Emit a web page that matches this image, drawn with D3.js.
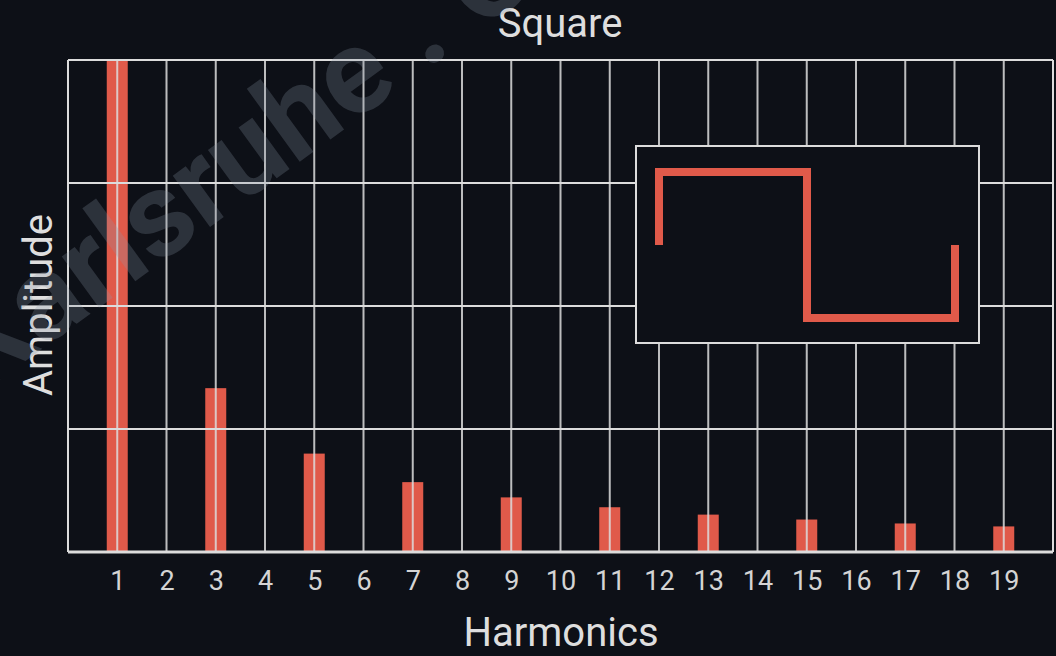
<!DOCTYPE html>
<html>
<head>
	<title>Square</title>
	<script src="https://d3js.org/d3.v7.min.js" charset="utf-8"></script>
	<style>
		body { margin: 0; background: #0d1017; }
		text { font-family: Roboto, sans-serif; }
	</style>
</head>
<body>
	<svg width="1056" height="656"></svg>
	<script>
		// harmonic amplitudes (even harmonics are zero)
		const harmonics = [1, 3, 5, 7, 9, 11, 13, 15, 17, 19];
		const amplitudes = [1.0, 0.333, 0.2, 0.142, 0.111, 0.091, 0.076, 0.066, 0.058, 0.052];
		const tickLabels = d3.range(1, 20);
		// one period of the square wave shown in the inset: [t, level]
		const waveT = [0, 0, 0.5, 0.5, 1, 1];
		const waveV = [0, 1, 1, -1, -1, 0];

		const plotLeft = 68, plotRight = 1053, plotTop = 60, plotBottom = 552;

		const svg = d3.select('svg');
		svg.append('rect').attr('width', 1056).attr('height', 656).attr('fill', '#0d1017');

		const x = d3.scaleLinear().domain([0, 20]).range([plotLeft, plotRight]);
		const y = d3.scaleLinear().domain([0, 1]).range([plotBottom, plotTop]);

		// bars
		const barW = 21;
		svg.selectAll('rect.bar')
			.data(harmonics)
			.enter()
			.append('rect')
			.attr('class', 'bar')
			.attr('x', d => x(d) - barW / 2)
			.attr('y', (d, i) => y(amplitudes[i]))
			.attr('width', barW)
			.attr('height', (d, i) => y(0) - y(amplitudes[i]))
			.attr('fill', '#e05a4a');

		// grid on top of bars
		const grid = svg.append('g').attr('stroke', '#dcdcdc').attr('stroke-width', 2);
		grid.selectAll('line.v')
			.data(d3.range(0, 21))
			.enter()
			.append('line')
			.attr('x1', d => x(d)).attr('x2', d => x(d))
			.attr('y1', plotTop).attr('y2', plotBottom)
			.attr('stroke-opacity', d => (d === 0 || d === 20) ? 1 : 0.85);
		grid.selectAll('line.h')
			.data(d3.range(0, 1.01, 0.25))
			.enter()
			.append('line')
			.attr('x1', plotLeft).attr('x2', plotRight)
			.attr('y1', d => y(d)).attr('y2', d => y(d))
			.attr('stroke-width', d => (d === 0) ? 3 : 2);

		// x axis
		const xAxis = svg.append('g')
			.attr('transform', `translate(0, ${plotBottom})`)
			.call(d3.axisBottom(x).tickValues(tickLabels).tickSize(0).tickPadding(19).tickFormat(d3.format('d')));
		xAxis.select('.domain').remove();
		xAxis.selectAll('text')
			.attr('fill', '#d4d4d4')
			.style('font-size', '27px')
			.style('font-family', 'Roboto, sans-serif');

		// titles
		svg.append('text').attr('x', 560).attr('y', 37).attr('text-anchor', 'middle')
			.attr('fill', '#dedede').style('font-size', '40px').text('Square');
		svg.append('text').attr('x', 561).attr('y', 646).attr('text-anchor', 'middle')
			.attr('fill', '#dedede').style('font-size', '40px').text('Harmonics');
		svg.append('text').attr('transform', 'translate(52, 305) rotate(-90)').attr('text-anchor', 'middle')
			.attr('fill', '#dedede').style('font-size', '40px').text('Amplitude');

		// inset with the waveform
		svg.append('rect').attr('x', 636).attr('y', 146).attr('width', 343).attr('height', 197)
			.attr('fill', '#0d1017').attr('stroke', '#dcdcdc').attr('stroke-width', 2);
		const wx = d3.scaleLinear().domain([0, 1]).range([659, 955]);
		const wy = d3.scaleLinear().domain([-1, 1]).range([318, 172]);
		const line = d3.line().x(d => wx(d[0])).y(d => wy(d[1])).curve(d3.curveLinear);
		svg.append('path')
			.datum(waveT.map((t, i) => [t, waveV[i]]))
			.attr('d', line)
			.attr('fill', 'none')
			.attr('stroke', '#e05a4a')
			.attr('stroke-width', 8)
			.attr('stroke-linejoin', 'miter')
			.attr('stroke-linecap', 'butt');

		// faint watermark
		svg.append('text')
			.attr('transform', 'translate(-20, 394) rotate(-36)')
			.attr('fill', '#8a96a8')
			.attr('fill-opacity', 0.25)
			.style('font-size', '120px')
			.style('font-weight', 'bold')
			.text('Karlsruhe . C');
	</script>
</body>
</html>
